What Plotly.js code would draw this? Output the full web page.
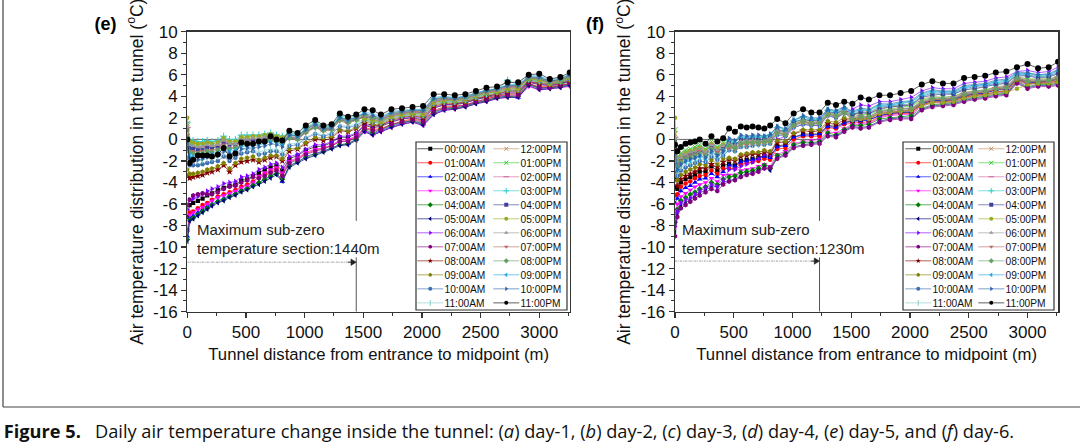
<!DOCTYPE html>
<html>
<head>
<meta charset="utf-8">
<script src="https://cdn.plot.ly/plotly-3.0.1.min.js"></script>
<style>
html, body { margin: 0; padding: 0; background: #fff; overflow: hidden; }
#wrap { width: 1080px; height: 445px; overflow: hidden; }
/* drawn 4x larger and shrunk, so the legend rows can be as tight as the original */
#chart { width: 4320px; height: 1780px; transform: scale(0.25); transform-origin: 0 0; }
</style>
</head>
<body>
<div id="wrap"><div id="chart"></div></div>
<script>
// distance from the entrance (m)
const dist = [0,20,50,90,130,170,210,260,310,360,410,460,510,560,610,660,710,760,810,870,940,1010,1090,1160,1230,1300,1370,1440,1510,1580,1650,1740,1830,1920,2010,2100,2190,2280,2370,2460,2550,2640,2730,2820,2910,3000,3090,3180,3260];

const hours = ['00:00AM','01:00AM','02:00AM','03:00AM','04:00AM','05:00AM','06:00AM','07:00AM','08:00AM','09:00AM','10:00AM','11:00AM',
               '12:00PM','01:00PM','02:00PM','03:00PM','04:00PM','05:00PM','06:00PM','07:00PM','08:00PM','09:00PM','10:00PM','11:00PM'];

const yTickVals = [-16,-14,-12,-10,-8,-6,-4,-2,0,2,4,6,8,10];
const yTickText = ['-16','-14','-12','-10','-8','-6','-4','-2','0','2','4','6','8','10'];

// maximum sub-zero section (m)
const subZeroE = 1440;
const subZeroF = 1230;

// ---- day-5 (e) ----
const e0 = [-7.2,-6.1,-5.9,-5.7,-5.5,-5.2,-5.0,-4.7,-4.5,-4.3,-4.2,-3.8,-3.7,-3.4,-3.1,-2.8,-2.6,-2.4,-2.9,-1.8,-1.5,-1.0,-0.7,-0.6,-0.3,0.2,0.2,0.5,1.3,1.1,1.2,1.6,1.9,2.0,1.8,2.9,3.2,3.2,3.4,3.7,3.9,4.1,4.3,4.3,5.3,5.1,5.0,5.1,5.4];
const e1 = [-8.4,-6.8,-6.7,-6.4,-6.1,-5.9,-5.6,-5.3,-5.1,-4.9,-4.7,-4.4,-4.2,-3.9,-3.5,-3.2,-3.0,-2.7,-3.3,-2.1,-1.8,-1.3,-1.0,-0.8,-0.6,-0.2,-0.1,0.3,1.1,0.9,1.0,1.4,1.7,1.9,1.7,2.7,3.0,3.1,3.2,3.5,3.8,4.0,4.2,4.2,5.2,4.9,4.9,5.0,5.2];
const e2 = [-9.0,-7.3,-7.1,-6.8,-6.5,-6.2,-6.0,-5.7,-5.5,-5.2,-5.0,-4.7,-4.5,-4.2,-4.0,-3.7,-3.4,-3.1,-3.9,-2.4,-2.1,-1.6,-1.3,-1.1,-0.8,-0.5,-0.4,0.0,0.8,0.5,0.8,1.2,1.5,1.7,1.4,2.4,2.8,2.9,3.1,3.4,3.6,3.9,4.0,3.9,5.1,4.7,4.8,4.9,5.1];
const e3 = [-8.6,-7.0,-6.8,-6.5,-6.3,-6.0,-5.7,-5.4,-5.2,-5.0,-4.8,-4.5,-4.3,-4.0,-3.4,-3.1,-2.8,-2.6,-3.1,-2.0,-1.7,-1.2,-0.9,-0.8,-0.5,-0.1,0.0,0.3,0.7,0.4,0.7,1.1,1.4,1.6,1.3,2.3,2.7,2.8,3.0,3.3,3.5,3.8,3.9,3.9,4.9,4.6,4.7,4.8,4.9];
const e4 = [-9.3,-7.5,-7.3,-7.0,-6.7,-6.4,-6.1,-5.8,-5.6,-5.3,-5.1,-4.8,-4.6,-4.3,-4.0,-3.7,-3.4,-3.2,-3.7,-2.5,-2.1,-1.7,-1.4,-1.1,-0.8,-0.5,-0.4,0.0,0.9,0.6,0.9,1.3,1.6,1.7,1.5,2.5,2.9,2.9,3.1,3.4,3.6,3.9,4.0,4.0,5.1,4.8,4.8,4.9,5.1];
const e5 = [-9.5,-7.6,-7.4,-7.1,-6.8,-6.5,-6.2,-5.9,-5.7,-5.4,-5.2,-4.9,-4.7,-4.4,-4.2,-3.9,-3.6,-3.3,-3.9,-2.6,-2.2,-1.8,-1.5,-1.2,-0.9,-0.6,-0.5,-0.1,0.7,0.4,0.7,1.1,1.4,1.6,1.3,2.3,2.7,2.8,3.0,3.3,3.5,3.8,3.9,3.9,5.0,4.6,4.7,4.8,5.0];
const e6 = [-6.5,-5.6,-5.5,-5.3,-5.1,-4.8,-4.6,-4.4,-4.1,-4.0,-3.9,-3.5,-3.4,-3.2,-2.8,-2.6,-2.3,-2.2,-2.6,-1.6,-1.4,-0.9,-0.5,-0.5,-0.2,0.3,0.3,0.6,1.4,1.2,1.3,1.7,1.9,2.1,1.9,3.0,3.2,3.3,3.4,3.7,4.0,4.2,4.4,4.4,5.4,5.1,5.0,5.2,5.4];
const e7 = [-6.1,-5.6,-5.2,-5.1,-5.0,-5.1,-5.1,-4.9,-4.6,-4.4,-4.3,-4.0,-3.8,-3.5,-3.6,-3.4,-3.1,-2.9,-3.4,-2.2,-1.9,-1.4,-1.1,-0.9,-0.6,-0.2,-0.2,0.2,1.0,0.8,0.9,1.4,1.6,1.8,1.6,2.6,2.9,3.0,3.2,3.5,3.7,4.0,4.1,4.1,5.2,4.8,4.8,5.0,5.2];
const e8 = [-3.4,-3.6,-3.5,-3.4,-3.3,-3.1,-3.0,-2.8,-2.4,-3.0,-2.4,-2.1,-2.0,-1.9,-2.1,-1.9,-1.7,-1.6,-2.0,-1.1,-0.9,-0.4,0.0,-0.1,0.1,0.8,0.7,1.0,1.5,1.3,1.3,1.8,2.0,2.2,2.0,3.1,3.3,3.3,3.5,3.8,4.0,4.2,4.5,4.5,5.4,5.2,5.1,5.2,5.5];
const e9 = [-2.8,-3.2,-3.2,-3.1,-3.0,-2.8,-2.7,-2.5,-2.2,-2.7,-2.2,-1.8,-1.7,-1.6,-1.9,-1.7,-1.5,-1.5,-1.8,-0.9,-0.8,-0.3,0.2,0.1,0.3,0.9,0.8,1.1,1.7,1.4,1.4,1.9,2.1,2.2,2.1,3.2,3.4,3.4,3.5,3.8,4.1,4.3,4.5,4.5,5.5,5.3,5.1,5.3,5.5];
const e10 = [-1.7,-2.4,-2.4,-2.4,-2.3,-2.2,-2.1,-2.0,-1.6,-2.0,-1.7,-1.3,-1.2,-1.1,-1.4,-1.3,-1.1,-1.1,-1.4,-0.6,-0.5,0.1,0.5,0.3,0.5,1.2,1.1,1.3,1.8,1.6,1.5,2.0,2.2,2.3,2.2,3.3,3.5,3.5,3.6,3.9,4.2,4.4,4.6,4.6,5.5,5.4,5.2,5.3,5.6];
const e11 = [-1.0,-2.0,-2.0,-2.0,-1.9,-1.8,-1.8,-1.6,-1.3,-1.7,-1.4,-1.0,-0.9,-0.9,-1.2,-1.0,-0.9,-0.9,-1.2,-0.4,-0.4,0.2,0.6,0.4,0.6,1.4,1.2,1.5,1.9,1.7,1.6,2.0,2.2,2.4,2.3,3.4,3.5,3.5,3.7,4.0,4.2,4.4,4.7,4.7,5.6,5.4,5.2,5.4,5.7];
const e12 = [1.5,-0.3,-0.4,-0.5,-0.5,-0.4,-0.4,-0.3,0.1,-0.2,-0.2,0.2,0.2,0.2,0.2,0.3,0.4,0.3,0.1,0.3,0.2,0.8,1.3,0.9,1.1,2.0,1.7,1.9,2.0,1.8,1.7,2.1,2.3,2.4,2.4,3.4,3.6,3.6,3.7,4.0,4.3,4.5,4.7,4.7,5.6,5.5,5.2,5.4,5.7];
const e13 = [1.3,-0.5,-0.5,-0.6,-0.6,-0.5,-0.6,-0.4,-0.1,-0.3,-0.3,0.1,0.1,0.1,0.1,0.2,0.3,0.2,0.0,0.2,0.1,0.8,1.2,0.9,1.0,1.9,1.7,1.9,2.0,1.8,1.7,2.2,2.3,2.5,2.4,3.5,3.6,3.6,3.7,4.0,4.3,4.5,4.8,4.8,5.6,5.5,5.3,5.4,5.7];
const e14 = [1.1,-0.6,-0.7,-0.8,-0.7,-0.6,-0.7,-0.6,-0.2,-0.4,-0.4,0.0,0.0,0.0,0.0,0.1,0.3,0.1,0.0,0.1,0.0,0.7,1.1,0.8,0.9,1.8,1.6,1.8,2.1,1.9,1.7,2.2,2.4,2.5,2.5,3.5,3.7,3.7,3.8,4.1,4.4,4.5,4.8,4.8,5.7,5.6,5.3,5.5,5.8];
const e15 = [1.6,0.0,-0.1,-0.2,-0.2,-0.1,-0.2,-0.1,0.3,0.0,0.0,0.4,0.4,0.4,0.4,0.5,0.6,0.4,0.3,0.6,0.5,1.1,1.6,1.2,1.3,2.2,2.0,2.2,2.3,2.1,1.9,2.4,2.5,2.7,2.7,3.7,3.8,3.8,3.9,4.2,4.5,4.6,5.5,5.0,5.8,5.7,5.4,5.6,5.9];
const e16 = [0.9,-0.8,-0.8,-0.9,-0.9,-0.7,-0.8,-0.7,-0.3,-0.5,-0.5,-0.1,-0.1,-0.1,-0.1,0.1,0.2,0.0,-0.1,0.2,0.1,0.7,1.2,0.9,1.0,1.9,1.6,1.9,2.1,2.0,1.8,2.3,2.4,2.6,2.5,3.6,3.7,3.7,3.8,4.1,4.4,4.6,4.9,4.9,5.7,5.6,5.3,5.5,5.8];
const e17 = [2.0,-0.2,-0.3,-0.4,-0.4,-0.3,-0.4,-0.3,0.1,-0.2,-0.2,0.2,0.2,0.3,0.3,0.4,0.5,0.3,0.2,0.5,0.3,1.0,1.5,1.1,1.2,2.1,1.8,2.1,1.9,1.7,1.6,2.1,2.3,2.4,2.3,3.4,3.6,3.6,3.7,4.0,4.3,4.4,4.7,4.7,5.6,5.5,5.2,5.4,5.7];
const e18 = [1.2,-0.5,-0.6,-0.7,-0.7,-0.5,-0.6,-0.5,-0.1,-0.4,-0.4,0.0,0.0,0.1,0.1,0.2,0.3,0.1,0.0,0.4,0.3,0.9,1.4,1.0,1.1,2.0,1.8,2.0,2.2,2.0,1.8,2.3,2.5,2.6,2.6,3.6,3.8,3.7,3.8,4.1,4.4,4.6,4.9,4.9,5.7,5.7,5.3,5.5,5.8];
const e19 = [0.4,-1.1,-1.1,-1.2,-1.1,-1.0,-1.0,-0.9,-0.5,-0.8,-0.7,-0.3,-0.3,-0.3,-0.2,-0.1,0.0,-0.1,-0.3,0.1,0.0,0.6,1.1,0.8,0.9,1.7,1.5,1.8,2.2,2.1,1.9,2.3,2.5,2.6,2.6,3.7,3.8,3.7,3.9,4.2,4.4,4.6,4.9,4.9,5.7,5.7,5.4,5.5,5.9];
const e20 = [0.2,-1.2,-1.3,-1.3,-1.3,-1.1,-1.2,-1.0,-0.7,-0.9,-0.8,-0.5,-0.4,-0.4,-0.3,-0.2,-0.1,-0.2,-0.4,0.1,0.0,0.7,1.1,0.8,0.9,1.8,1.6,1.8,2.3,2.0,1.9,2.4,2.6,2.7,2.7,3.7,3.9,3.8,3.9,4.2,4.5,4.7,5.0,5.0,5.7,5.7,5.4,5.5,5.9];
const e21 = [-0.3,-1.5,-1.6,-1.6,-1.5,-1.4,-1.4,-1.3,-0.9,-1.1,-1.0,-0.7,-0.6,-0.6,-0.5,-0.4,-0.2,-0.3,-0.5,0.5,0.3,1.0,1.5,1.1,1.2,2.1,1.8,2.1,2.5,2.4,2.1,2.6,2.7,2.8,2.8,3.9,4.0,3.9,4.0,4.3,4.6,4.7,5.1,5.1,5.9,5.9,5.5,5.7,6.0];
const e22 = [-0.8,-1.8,-1.9,-1.9,-1.8,-1.6,-1.6,-1.5,-1.1,-1.3,-1.3,-0.9,-0.8,-0.8,-0.7,-0.6,-0.4,-0.5,-0.7,0.4,0.3,0.9,1.4,1.0,1.1,2.0,1.8,2.0,2.4,2.2,2.0,2.5,2.6,2.7,2.7,3.8,3.9,3.8,4.0,4.3,4.5,4.7,5.0,5.0,5.8,5.8,5.4,5.6,6.0];
const e23 = [0.0,-2.2,-1.9,-1.5,-1.5,-1.5,-1.6,-1.4,-0.8,-1.6,-1.3,-0.3,-0.4,-0.4,-0.2,-0.2,0.3,0.0,-0.1,0.8,0.6,1.3,1.8,1.3,1.4,2.4,2.1,2.3,2.8,2.7,2.3,2.8,2.9,3.0,3.1,4.2,4.2,4.1,4.2,4.5,4.8,4.9,5.3,5.3,6.0,6.1,5.6,5.8,6.2];

// ---- day-6 (f) ----
const f0 = [-4.4,-4.6,-4.0,-3.7,-3.5,-3.3,-3.0,-3.0,-2.5,-2.9,-2.4,-2.3,-2.4,-2.0,-1.9,-1.8,-1.7,-1.5,-1.6,-0.6,-0.5,0.2,0.5,0.5,0.5,1.3,1.2,1.6,1.7,1.8,1.8,2.2,2.4,2.5,2.5,3.3,3.6,3.6,3.7,4.0,4.2,4.3,4.6,4.6,5.6,5.3,5.3,5.4,5.6];
const f1 = [-5.2,-5.1,-4.4,-4.1,-3.9,-3.6,-3.4,-3.3,-2.9,-3.2,-2.7,-2.7,-2.7,-2.3,-2.2,-2.1,-2.0,-1.8,-1.9,-0.9,-0.8,0.0,0.3,0.3,0.3,1.1,1.0,1.4,1.5,1.6,1.6,2.1,2.3,2.4,2.4,3.2,3.5,3.5,3.6,3.9,4.1,4.2,4.4,4.5,5.5,5.2,5.2,5.3,5.4];
const f2 = [-5.9,-5.5,-4.8,-4.5,-4.3,-4.0,-3.7,-3.6,-3.2,-3.5,-3.0,-2.4,-2.5,-2.1,-2.0,-1.9,-1.8,-1.6,-1.7,-0.7,-0.6,0.2,0.4,0.4,0.5,1.2,1.1,1.5,1.7,1.7,1.8,2.2,2.4,2.5,2.6,3.3,3.6,3.6,3.7,4.1,4.2,4.3,4.6,4.7,5.6,5.3,5.3,5.4,5.6];
const f3 = [-6.8,-6.0,-5.3,-5.0,-4.7,-4.4,-4.2,-4.0,-3.6,-3.9,-3.3,-3.3,-3.3,-2.9,-2.8,-2.7,-2.5,-2.3,-2.5,-1.4,-1.1,-0.4,-0.2,-0.1,0.0,0.7,0.6,1.0,1.4,1.4,1.5,2.0,2.2,2.3,2.3,3.1,3.4,3.4,3.5,3.8,4.0,4.1,4.3,4.4,5.4,5.1,5.2,5.2,5.3];
const f4 = [-7.7,-6.5,-5.7,-5.4,-5.1,-4.9,-4.6,-4.4,-4.0,-4.2,-3.7,-3.5,-3.4,-3.1,-3.0,-2.9,-2.7,-2.4,-2.7,-1.5,-1.3,-0.5,-0.3,-0.3,-0.2,0.6,0.4,0.9,1.3,1.3,1.4,1.9,2.0,2.1,2.2,2.9,3.2,3.3,3.4,3.7,3.9,4.0,4.2,4.3,5.4,4.9,5.1,5.1,5.2];
const f5 = [-8.6,-7.0,-6.2,-5.9,-5.6,-5.3,-5.0,-4.7,-4.4,-4.4,-4.0,-3.8,-3.7,-3.4,-3.2,-3.1,-2.9,-2.6,-2.9,-1.7,-1.4,-0.7,-0.5,-0.4,-0.3,0.4,0.3,0.8,1.2,1.1,1.2,1.7,1.9,2.0,2.0,2.8,3.1,3.2,3.3,3.6,3.8,3.9,4.1,4.2,5.3,4.8,5.0,5.0,5.1];
const f6 = [-8.1,-6.7,-5.9,-5.6,-5.4,-5.1,-4.8,-4.5,-4.2,-4.4,-3.9,-2.8,-2.8,-2.5,-2.3,-2.1,-1.8,-1.4,-1.5,0.0,0.3,1.1,1.4,1.3,1.3,2.2,2.0,2.4,2.8,3.2,3.1,3.5,3.5,3.7,3.9,4.5,4.8,4.7,4.7,5.2,5.3,5.4,5.7,5.8,6.3,6.4,6.2,6.3,6.7];
const f7 = [-9.0,-7.2,-6.4,-6.1,-5.8,-5.5,-5.2,-4.9,-4.6,-4.8,-4.2,-3.9,-3.8,-3.5,-3.3,-3.2,-3.0,-2.7,-2.6,-1.8,-1.5,-0.8,-0.6,-0.5,-0.4,0.3,0.2,0.7,1.1,1.0,1.1,1.6,1.8,1.9,1.9,2.7,3.0,3.1,3.2,3.5,3.7,3.8,4.0,4.1,5.2,4.7,4.9,4.9,5.0];
const f8 = [-3.7,-4.3,-3.7,-3.4,-3.2,-3.0,-2.7,-2.7,-2.3,-2.6,-2.1,-1.9,-2.0,-1.6,-1.5,-1.4,-1.4,-1.2,-1.3,-0.3,-0.3,0.5,0.8,0.7,0.8,1.5,1.4,1.8,1.8,1.9,1.9,2.4,2.5,2.6,2.7,3.4,3.7,3.7,3.8,4.2,4.3,4.4,4.7,4.8,5.7,5.4,5.4,5.4,5.7];
const f9 = [-3.0,-3.8,-3.3,-3.0,-2.8,-2.6,-2.3,-2.4,-1.9,-2.3,-1.8,-1.7,-1.8,-1.4,-1.3,-1.2,-1.2,-1.0,-1.1,-0.1,-0.2,0.6,0.9,0.9,0.9,1.7,1.6,2.0,1.9,2.0,2.0,2.4,2.5,2.6,2.7,3.2,3.5,3.5,3.6,3.9,4.1,4.2,4.4,4.5,5.5,5.2,5.2,5.3,5.4];
const f10 = [-2.2,-3.4,-2.9,-2.6,-2.4,-2.2,-2.0,-2.1,-1.6,-1.9,-1.5,-1.0,-1.1,-0.7,-0.7,-0.6,-0.5,-0.5,-0.4,0.4,0.3,1.1,1.4,1.3,1.3,2.2,2.0,2.4,2.3,2.6,2.5,3.0,3.1,3.2,3.3,4.0,4.3,4.3,4.3,4.7,4.9,5.0,5.2,5.3,6.0,6.0,5.8,5.9,6.2];
const f11 = [-1.7,-3.2,-2.6,-2.3,-2.2,-2.0,-1.8,-1.9,-1.4,-1.8,-1.4,-0.9,-1.0,-0.6,-0.6,-0.5,-0.5,-0.4,-0.3,0.5,0.4,1.2,1.5,1.4,1.4,2.2,2.1,2.4,2.2,2.5,2.4,2.9,3.0,3.1,3.2,3.9,4.2,4.2,4.2,4.6,4.8,4.9,5.1,5.2,6.0,5.9,5.8,5.8,6.1];
const f12 = [0.5,-2.0,-1.5,-1.2,-1.1,-0.9,-0.7,-1.0,-0.4,-0.8,-0.5,-0.5,-0.6,-0.2,-0.2,-0.1,-0.1,-0.1,0.0,0.8,0.6,1.4,1.8,1.6,1.6,2.5,2.3,2.7,2.2,2.5,2.4,2.9,3.0,3.1,3.2,3.7,4.0,3.9,4.0,4.4,4.5,4.6,4.9,5.0,5.8,5.6,5.6,5.6,5.9];
const f13 = [0.9,-1.7,-1.3,-1.0,-0.9,-0.7,-0.5,-0.9,-0.2,-0.7,-0.3,-0.4,-0.6,-0.1,-0.1,0.0,0.0,0.0,0.1,0.9,0.7,1.5,1.9,1.7,1.7,2.5,2.4,2.7,2.1,2.3,2.3,2.7,2.8,3.0,3.1,3.6,3.9,3.9,4.0,4.3,4.5,4.6,4.8,4.9,5.8,5.6,5.6,5.6,5.8];
const f14 = [0.2,-2.1,-1.6,-1.3,-1.2,-1.1,-0.8,-1.1,-0.5,-0.9,-0.6,-0.6,-0.7,-0.3,-0.3,-0.2,-0.2,-0.2,-0.1,0.7,0.5,1.4,1.7,1.5,1.6,2.4,2.2,2.6,2.0,2.2,2.1,2.6,2.7,2.9,2.9,3.5,3.8,3.8,3.9,4.3,4.4,4.5,4.8,4.9,5.7,5.5,5.5,5.5,5.8];
const f15 = [0.0,-2.2,-1.7,-1.4,-1.3,-1.2,-0.9,-1.2,-0.6,-1.0,-0.7,-0.1,-0.3,0.2,0.1,0.2,0.2,0.2,0.4,1.1,0.8,1.7,2.1,1.8,1.9,2.7,2.5,2.9,2.4,2.7,2.7,3.1,3.2,3.3,3.5,4.1,4.4,4.4,4.4,4.8,5.0,5.1,5.3,5.4,6.1,6.1,5.9,6.0,6.3];
const f16 = [-0.2,-2.3,-1.8,-1.5,-1.4,-1.3,-1.0,-1.3,-0.7,-1.1,-0.8,-0.3,-0.5,0.0,0.0,0.1,0.0,0.0,0.2,0.9,0.7,1.6,1.9,1.7,1.8,2.6,2.4,2.8,2.3,2.5,2.4,2.8,3.0,3.1,3.2,3.9,4.1,4.2,4.2,4.6,4.7,4.9,5.1,5.2,5.9,5.9,5.7,5.8,6.1];
const f17 = [2.0,-2.0,-1.6,-1.3,-1.1,-1.0,-0.8,-1.1,-0.4,-0.9,-0.5,-0.7,-0.8,-0.4,-0.4,-0.3,-0.3,-0.3,-0.2,0.6,0.5,1.3,1.6,1.5,1.5,2.3,2.2,2.5,1.8,1.9,1.9,2.4,2.5,2.6,2.7,3.1,3.4,3.4,3.5,3.8,4.0,4.1,4.3,4.4,4.7,5.1,5.2,5.2,5.3];
const f18 = [0.1,-2.1,-1.7,-1.4,-1.2,-1.1,-0.9,-1.2,-0.5,-1.0,-0.6,-0.4,-0.6,-0.2,-0.1,-0.1,-0.2,-0.1,0.1,0.8,0.6,1.3,1.8,1.5,1.6,2.4,2.3,2.7,1.9,2.1,2.1,2.6,2.7,2.8,2.9,3.4,3.7,3.7,3.8,4.2,4.3,4.4,4.7,4.8,5.6,5.4,5.5,5.4,5.7];
const f19 = [-0.4,-2.4,-2.0,-1.7,-1.5,-1.4,-1.1,-1.4,-0.8,-1.2,-0.9,-0.8,-0.9,-0.5,-0.5,-0.4,-0.4,-0.3,-0.3,0.6,0.4,1.3,1.6,1.4,1.5,2.3,2.1,2.5,1.9,2.0,2.0,2.5,2.6,2.7,2.8,3.4,3.7,3.7,3.8,4.1,4.3,4.4,4.6,4.7,5.6,5.3,5.4,5.4,5.6];
const f20 = [-0.8,-2.6,-2.1,-1.8,-1.7,-1.5,-1.3,-1.5,-0.9,-1.4,-1.0,-0.6,-0.8,-0.4,-0.3,-0.3,-0.3,-0.2,-0.2,0.6,0.4,1.3,1.7,1.4,1.5,2.3,2.2,2.5,1.9,2.1,2.1,2.6,2.7,2.8,2.9,3.5,3.8,3.8,3.8,4.2,4.4,4.5,4.7,4.8,5.7,5.4,5.4,5.5,5.7];
const f21 = [-1.3,-2.9,-2.4,-2.1,-2.0,-1.8,-1.6,-1.8,-1.2,-1.6,-1.2,0.0,-0.2,0.3,0.2,0.3,0.3,0.3,0.4,1.2,0.9,1.8,2.1,1.9,1.9,2.8,2.6,2.9,2.5,2.8,2.7,3.2,3.2,3.4,3.5,4.2,4.5,4.4,4.4,4.9,5.0,5.1,5.4,5.5,6.1,6.1,6.0,6.0,6.4];
const f22 = [-1.1,-2.8,-2.3,-2.0,-1.8,-1.7,-1.5,-1.7,-1.1,-1.5,-1.1,0.1,-0.1,0.4,0.3,0.4,0.4,0.3,0.5,1.2,1.0,1.8,2.2,2.0,2.0,2.8,2.7,3.0,2.6,2.9,2.8,3.3,3.3,3.5,3.6,4.3,4.6,4.5,4.5,5.0,5.1,5.2,5.5,5.6,6.2,6.2,6.0,6.1,6.5];
const f23 = [-0.5,-1.1,-0.7,-0.4,-0.3,-0.2,0.0,-0.4,0.3,-0.2,0.1,1.0,0.7,1.2,1.1,1.2,1.1,1.0,1.3,1.9,1.5,2.4,2.8,2.5,2.5,3.4,3.2,3.5,3.3,3.9,3.7,4.1,4.1,4.3,4.5,5.1,5.4,5.2,5.2,5.7,5.8,5.9,6.2,6.3,6.7,7.0,6.6,6.7,7.2];

const day5 = [e0,e1,e2,e3,e4,e5,e6,e7,e8,e9,e10,e11,e12,e13,e14,e15,e16,e17,e18,e19,e20,e21,e22,e23];
const day6 = [f0,f1,f2,f3,f4,f5,f6,f7,f8,f9,f10,f11,f12,f13,f14,f15,f16,f17,f18,f19,f20,f21,f22,f23];

// ---- styles ----
const K = 4;           // drawing scale (see css)
const W = 1080, H = 445;
const FONT = 'Arial, "Liberation Sans", sans-serif';

const colors = ['#000000','#ff0000','#0000ff','#ff00ff','#008000','#000080','#8000ff','#800080','#800000','#808000','#3b6fb0','#86cccc',
                '#c09060','#33cc33','#cc6699','#33cccc','#404098','#99aa22','#999999','#b86a6a','#66a066','#22a8e0','#2f66a8','#000000'];
const symbols = ['square','circle','triangle-up','triangle-down','diamond','triangle-left','triangle-right','hexagon','star','pentagon','circle','line-ns-open',
                 'x-thin-open','x-thin-open','line-ew-open','cross-thin-open','square','circle','triangle-up','triangle-down','diamond','triangle-left','triangle-right','circle'];
const msize = [4.2,4.5,5,5,4.5,4.5,5,5,5.5,5,4.5,5, 5,5,5,5, 4,4.5,5,5,4.5,5,5,6];

function fade(hex, a) {
  const n = parseInt(hex.slice(1), 16);
  return 'rgba(' + (n >> 16 & 255) + ',' + (n >> 8 & 255) + ',' + (n & 255) + ',' + a + ')';
}

function makeTraces(series, xa, ya, legA, legB) {
  return series.map(function (y, h) {
    const open = symbols[h].indexOf('open') >= 0;
    return {
      type: 'scatter', mode: 'lines+markers',
      x: dist, y: y, name: hours[h],
      xaxis: xa, yaxis: ya,
      legend: h < 12 ? legA : legB,
      line: { color: fade(colors[h], 0.7), width: 0.9 * K },
      marker: { symbol: symbols[h], color: colors[h], size: msize[h] * K,
                line: { width: open ? 1 * K : 0, color: colors[h] } }
    };
  });
}

const data = makeTraces(day5, 'x', 'y', 'legend', 'legend2')
  .concat(makeTraces(day6, 'x2', 'y2', 'legend3', 'legend4'));

function xAxis(l, r, anchor) {
  return {
    domain: [l / W, r / W], anchor: anchor, range: [0, 3262],
    tickmode: 'linear', tick0: 0, dtick: 500,
    ticks: 'outside', ticklen: 5 * K, tickwidth: 1.2 * K, tickcolor: '#333',
    minor: { tickmode: 'linear', tick0: 0, dtick: 250, ticks: 'outside', ticklen: 3 * K, tickwidth: 1 * K, tickcolor: '#333' },
    showline: true, mirror: true, linecolor: '#333', linewidth: 1.3 * K,
    showgrid: false, zeroline: false,
    tickfont: { family: FONT, size: 17 * K, color: '#111' },
    title: { text: 'Tunnel distance from entrance to midpoint (m)', font: { family: FONT, size: 16.7 * K, color: '#111' }, standoff: 7 * K }
  };
}
function yAxis(anchor) {
  return {
    domain: [(H - 311.7) / H, (H - 31.7) / H], anchor: anchor, range: [-16, 10],
    tickmode: 'array', tickvals: yTickVals, ticktext: yTickText,
    ticks: 'outside', ticklen: 5 * K, tickwidth: 1.2 * K, tickcolor: '#333',
    minor: { tickmode: 'linear', tick0: 0, dtick: 1, ticks: 'outside', ticklen: 3 * K, tickwidth: 1 * K, tickcolor: '#333' },
    showline: true, mirror: true, linecolor: '#333', linewidth: 1.3 * K,
    showgrid: false, zeroline: false,
    tickfont: { family: FONT, size: 17 * K, color: '#111' },
    title: { text: 'Air temperature distribution in the tunnel (<sup>o</sup>C)', font: { family: FONT, size: 17.5 * K, color: '#111' }, standoff: 5 * K }
  };
}
function legendAt(px) {
  return {
    x: px / W, y: (H - 140.5) / H, xanchor: 'left', yanchor: 'top',
    bgcolor: 'rgba(0,0,0,0)', borderwidth: 0, itemwidth: 26 * K, tracegroupgap: 0,
    font: { family: FONT, size: 10.2 * K, color: '#111' }
  };
}

function paperLine(x0, y0, x1, y1) {
  return { type: 'line', xref: 'paper', yref: 'paper', x0: x0 / W, x1: x1 / W, y0: (H - y0) / H, y1: (H - y1) / H,
           line: { color: '#444', width: 1.2 * K } };
}
function legendBox(x0, x1) {
  return { type: 'rect', xref: 'paper', yref: 'paper', x0: x0 / W, x1: x1 / W, y0: (H - 310) / H, y1: (H - 142) / H,
           fillcolor: 'white', line: { color: '#333', width: 1.2 * K }, layer: 'above' };
}
// guide lines and the arrow pointing at the sub-zero section end
function sectionShapes(xr, yr, pos, yArrow) {
  return [
    { type: 'line', xref: xr, yref: yr, x0: 0, x1: pos, y0: 0, y1: 0, line: { color: '#666', width: 1 * K }, layer: 'below' },
    { type: 'line', xref: xr, yref: yr, x0: pos, x1: pos, y0: 0, y1: -16, line: { color: '#555', width: 1 * K } },
    { type: 'line', xref: xr, yref: yr, x0: 0, x1: pos - 70, y0: yArrow, y1: yArrow, line: { color: '#888', width: 0.8 * K, dash: 'dashdot' } },
    { type: 'line', xref: xr, yref: yr, x0: pos - 70, x1: pos - 40, y0: yArrow, y1: yArrow, line: { color: '#222', width: 1 * K } },
    { type: 'path', xref: xr, yref: yr,
      path: 'M' + (pos - 45) + ',' + (yArrow + 0.3) + ' L' + pos + ',' + yArrow + ' L' + (pos - 45) + ',' + (yArrow - 0.3) + ' Z',
      fillcolor: '#222', line: { color: '#222', width: 0.5 * K } }
  ];
}
function sectionNote(xr, yr, pos, xText) {
  return { xref: xr, yref: yr, x: xText, y: -9.25, xanchor: 'left', yanchor: 'middle', align: 'left', showarrow: false,
           text: 'Maximum sub-zero<br>temperature section:' + pos + 'm', bgcolor: 'white', borderpad: 0,
           font: { family: FONT, size: 15 * K, color: '#222' } };
}

const layout = {
  width: W * K, height: H * K,
  margin: { l: 0, r: 0, t: 0, b: 0 },
  paper_bgcolor: 'white', plot_bgcolor: 'white',
  showlegend: true,
  xaxis: xAxis(187.3, 570, 'y'),
  yaxis: yAxis('x'),
  xaxis2: xAxis(675, 1058.3, 'y2'),
  yaxis2: yAxis('x2'),
  legend: legendAt(416),
  legend2: legendAt(492),
  legend3: legendAt(904),
  legend4: legendAt(977),
  shapes: [
    paperLine(3, 0, 3, 407),
    paperLine(3, 407, 1080, 407),
    legendBox(416, 567),
    legendBox(903, 1054)
  ].concat(sectionShapes('x', 'y', subZeroE, -11.4), sectionShapes('x2', 'y2', subZeroF, -11.3)),
  annotations: [
    { xref: 'paper', yref: 'paper', x: 105.5 / W, y: (H - 24) / H, xanchor: 'center', yanchor: 'middle', showarrow: false,
      text: '<b>(e)</b>', font: { family: FONT, size: 18 * K, color: '#000' } },
    { xref: 'paper', yref: 'paper', x: 595 / W, y: (H - 24) / H, xanchor: 'center', yanchor: 'middle', showarrow: false,
      text: '<b>(f)</b>', font: { family: FONT, size: 18 * K, color: '#000' } },
    { xref: 'paper', yref: 'paper', x: 3 / W, y: (H - 431) / H, xanchor: 'left', yanchor: 'middle', showarrow: false,
      text: '<b>Figure 5.</b>\u00a0\u00a0\u00a0Daily air temperature change inside the tunnel: (<i>a</i>) day-1, (<i>b</i>) day-2, (<i>c</i>) day-3, (<i>d</i>) day-4, (<i>e</i>) day-5, and (<i>f</i>) day-6.',
      font: { family: '"Open Sans", Lato, sans-serif', size: 18.2 * K, color: '#111' } },
    sectionNote('x', 'y', subZeroE, 80),
    sectionNote('x2', 'y2', subZeroF, 57)
  ]
};

Plotly.newPlot('chart', data, layout, { staticPlot: true, displayModeBar: false });
</script>
</body>
</html>
